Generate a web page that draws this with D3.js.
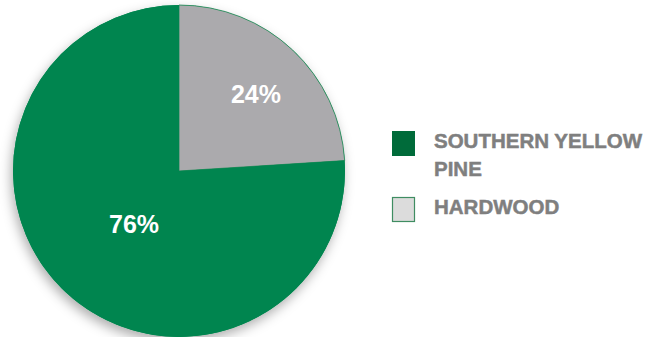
<!DOCTYPE html>
<html>
<head>
<meta charset="utf-8">
<script src="https://cdn.jsdelivr.net/npm/d3@7"></script>
<style>
  html, body { margin: 0; padding: 0; background: #ffffff; }
  svg { display: block; }
</style>
</head>
<body>
<svg id="chart" width="662" height="337"></svg>
<script>
// Wood species share
const categories = ["SOUTHERN YELLOW PINE", "HARDWOOD"];
const legendLines = [["SOUTHERN YELLOW", "PINE"], ["HARDWOOD"]];
const shares = [76, 24];

// Styling
const sliceColors = ["#00854f", "#abaaad"];
const swatchColors = ["#006b3a", "#dcdcdc"];
const swatchStrokes = ["none", "#3f8d62"];
const labelRadius = [70, 108];

const width = 662, height = 337;
const cx = 179, cy = 171, radius = 166;

const svg = d3.select("#chart");

const defs = svg.append("defs");
const filter = defs.append("filter")
  .attr("id", "shadow")
  .attr("x", "-20%").attr("y", "-20%")
  .attr("width", "140%").attr("height", "140%");
filter.append("feDropShadow")
  .attr("dx", -2).attr("dy", 5)
  .attr("stdDeviation", 6)
  .attr("flood-color", "#000")
  .attr("flood-opacity", 0.32);

const data = categories.map((c, i) => ({ name: c, value: shares[i], i }));

// Hardwood first, clockwise from 12 o'clock
const pie = d3.pie()
  .value(d => d.value)
  .sort(null);
const arcs = pie([data[1], data[0]]);

const arc = d3.arc().innerRadius(0).outerRadius(radius);

const g = svg.append("g").attr("transform", `translate(${cx},${cy})`);

g.append("circle")
  .attr("r", radius)
  .attr("fill", sliceColors[0])
  .attr("filter", "url(#shadow)");

g.selectAll("path.slice")
  .data(arcs)
  .join("path")
  .attr("class", "slice")
  .attr("d", arc)
  .attr("fill", d => sliceColors[d.data.i])
  .attr("stroke", d => d.data.i === 1 ? "#1f8a55" : "none")
  .attr("stroke-width", 0.8);

g.selectAll("text.pct")
  .data(arcs)
  .join("text")
  .attr("class", "pct")
  .attr("transform", d => {
    const a = (d.startAngle + d.endAngle) / 2;
    const r = labelRadius[d.data.i];
    return `translate(${Math.sin(a) * r + 3},${-Math.cos(a) * r + 2})`;
  })
  .attr("text-anchor", "middle")
  .attr("dy", "0.36em")
  .attr("fill", "#ffffff")
  .style("font-family", "'Liberation Sans', Arial, sans-serif")
  .style("font-weight", "bold")
  .style("font-size", "25px")
  .text(d => d.data.value + "%");

// Legend
const legendTop = [131, 197];
const legend = svg.append("g");
data.forEach((d, i) => {
  legend.append("rect")
    .attr("x", swatchStrokes[i] === "none" ? 392 : 392.5)
    .attr("y", swatchStrokes[i] === "none" ? legendTop[i] : legendTop[i] + 0.5)
    .attr("width", swatchStrokes[i] === "none" ? 23 : 22)
    .attr("height", swatchStrokes[i] === "none" ? 25 : 24)
    .attr("fill", swatchColors[i])
    .attr("stroke", swatchStrokes[i])
    .attr("stroke-width", 1.2);
  const t = legend.append("text")
    .attr("x", 434)
    .attr("y", legendTop[i] + 16.5)
    .attr("fill", "#7f7f7f")
    .attr("stroke", "#7f7f7f")
    .attr("stroke-width", 0.5)
    .style("font-family", "'Liberation Sans', Arial, sans-serif")
    .style("font-weight", "bold")
    .style("font-size", "20.5px");
  legendLines[i].forEach((line, k) => {
    t.append("tspan")
      .attr("x", 434)
      .attr("dy", k === 0 ? 0 : 28)
      .text(line);
  });
});
</script>
</body>
</html>
